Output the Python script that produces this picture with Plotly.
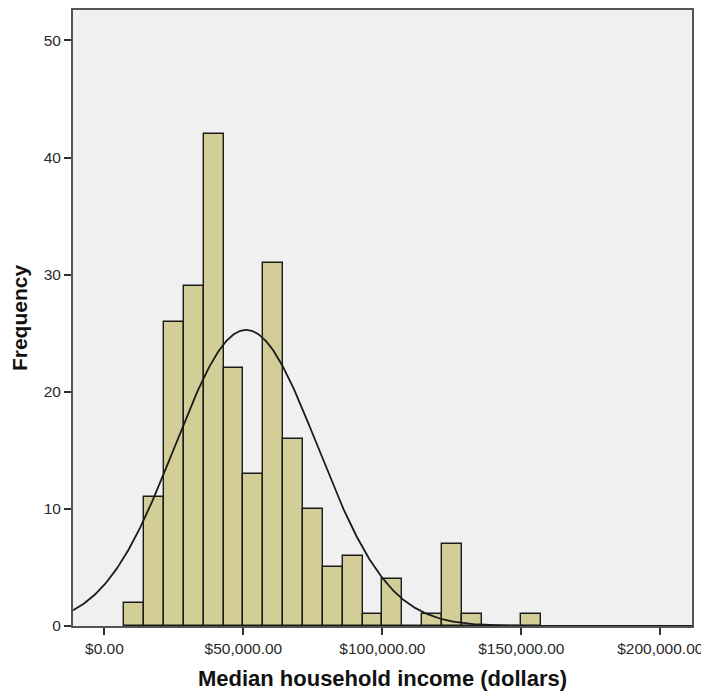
import numpy as np
import plotly.graph_objects as go

# Histogram data (bin width = 50000/7 dollars, first bin starts at 50000/7)
bin_width = 50000 / 7
first_bin_start = 50000 / 7
counts = [2, 11, 26, 29, 42, 22, 13, 31, 16, 10, 5, 6, 1, 4, 0, 1, 7, 1, 0, 0, 1]
n_total = sum(counts)

# Fitted normal curve parameters
mean_income = 51000
sd_income = 25700

x_ticks = [0, 50000, 100000, 150000, 200000]
y_ticks = [0, 10, 20, 30, 40, 50]

x_range = [-11300, 211400]
y_range = [0, 52.6]

centers = [first_bin_start + (i + 0.5) * bin_width for i in range(len(counts))]

xc = np.linspace(x_range[0], x_range[1], 600)
yc = n_total * bin_width / (sd_income * np.sqrt(2 * np.pi)) * np.exp(-0.5 * ((xc - mean_income) / sd_income) ** 2)

fig = go.Figure()
fig.add_trace(go.Bar(
    x=centers, y=counts, width=bin_width,
    marker=dict(color="#D3CE97", line=dict(color="#1a1a1a", width=1.4)),
    hoverinfo="x+y", showlegend=False,
))
fig.add_trace(go.Scatter(
    x=xc, y=yc, mode="lines",
    line=dict(color="#1a1a1a", width=1.8),
    showlegend=False, hoverinfo="skip",
))

fam = "Liberation Sans, Arial, sans-serif"
axis_font = dict(family=fam, size=15.5, color="#2a2a2a")
fig.update_layout(
    width=701, height=687,
    margin=dict(l=65, r=17, t=2, b=69, autoexpand=False),
    paper_bgcolor="white",
    plot_bgcolor="#F0F0F0",
    bargap=0,
    xaxis=dict(
        range=x_range, tickvals=x_ticks, tickformat="$,.2f",
        showgrid=False, zeroline=False, automargin=False,
        showline=True, linecolor="#555555", linewidth=2, mirror=True,
        ticks="outside", ticklen=7, tickwidth=1.5, tickcolor="#333333",
        tickfont=axis_font,
        title=dict(text="<b>Median household income (dollars)</b>",
                   font=dict(family=fam, size=22, color="#111111"),
                   standoff=15),
    ),
    yaxis=dict(
        range=y_range, tickvals=y_ticks,
        showgrid=False, zeroline=False, automargin=False,
        showline=True, linecolor="#555555", linewidth=2, mirror=True,
        ticks="outside", ticklen=7, tickwidth=1.5, tickcolor="#333333",
        tickfont=axis_font,
        title=dict(text="<b>Frequency</b>",
                   font=dict(family=fam, size=21, color="#111111"),
                   standoff=10),
    ),
)

fig.write_html("out.html")
